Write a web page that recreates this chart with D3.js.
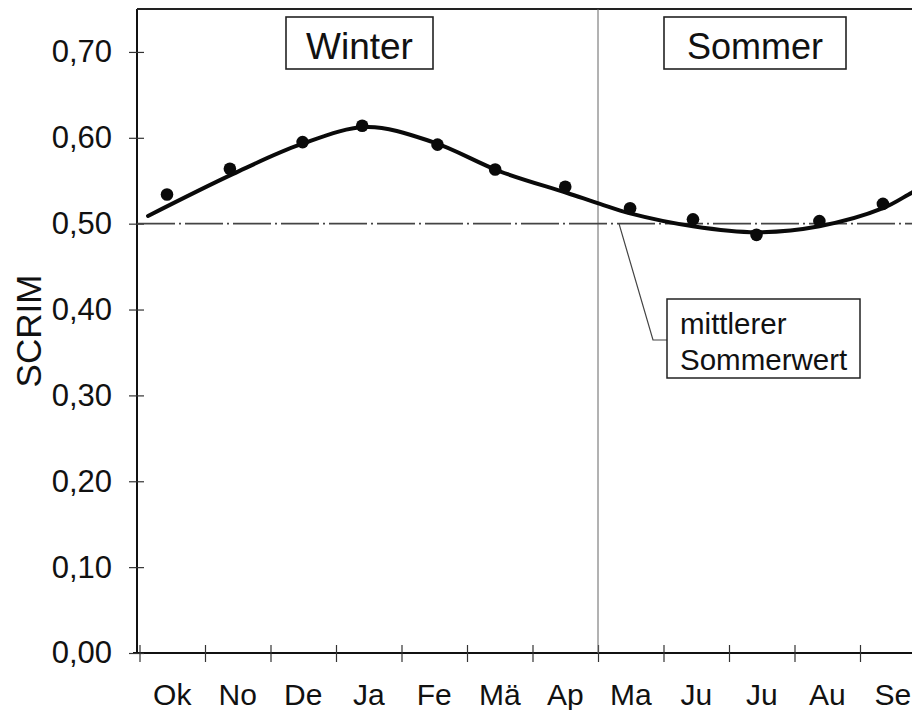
<!DOCTYPE html>
<html>
<head>
<meta charset="utf-8">
<script src="https://cdn.jsdelivr.net/npm/d3@7"></script>
<style>
    body { margin: 0; background: #fff; }
    #vis { width: 912px; height: 710px; overflow: hidden; }
    text { font-family: "Liberation Sans", Arial, sans-serif; fill: #111; }
</style>
</head>
<body>
<div id="vis"></div>
<script>
// months (winter season first), measured dots and fitted curve
var months = ['Ok', 'No', 'De', 'Ja', 'Fe', 'Mä', 'Ap', 'Ma', 'Ju', 'Ju', 'Au', 'Se'];
var pointPos = [0.42, 1.38, 2.49, 3.40, 4.55, 5.43, 6.50, 7.49, 8.45, 9.42, 10.38, 11.35];
var pointValues = [0.534, 0.564, 0.595, 0.614, 0.592, 0.563, 0.543, 0.518, 0.505, 0.487, 0.503, 0.523];
var curvePos = [0.13, 1.43, 2.45, 3.47, 4.48, 5.50, 6.52, 7.03, 7.49, 8.45, 9.42, 10.38, 11.35, 11.79, 12];
var curveValues = [0.509, 0.558, 0.592, 0.6125, 0.595, 0.561, 0.536, 0.523, 0.512, 0.497, 0.490, 0.497, 0.518, 0.536, 0.544];
var yTicks = [0, 0.1, 0.2, 0.3, 0.4, 0.5, 0.6, 0.7];
var summerMean = 0.5;
var summerStart = 7;

var width = 912;
var height = 710;
var margin = {
    top: 9,
    bottom: 57,
    left: 139.5
};

var svg = d3.select('#vis')
    .append('svg')
    .attr('width', width)
    .attr('height', height);

var x_scale = d3.scaleLinear()
    .domain([0, 12])
    .range([margin.left, margin.left + 786]);

var y_scale = d3.scaleLinear()
    .domain([0, 0.75])
    .range([height - margin.bottom, margin.top]);

var fmt = d3.formatLocale({ decimal: ',', thousands: '.', grouping: [3], currency: ['', ''] }).format('.2f');

var axisX = x_scale.range()[0] - 2.5;
var axisY = y_scale(0);

// frame: left axis, top line, bottom axis
svg.append('line')
    .attr('x1', axisX).attr('x2', axisX)
    .attr('y1', y_scale(0.75)).attr('y2', axisY + 1)
    .attr('stroke', '#111').attr('stroke-width', 2);

svg.append('line')
    .attr('x1', axisX).attr('x2', width)
    .attr('y1', y_scale(0.75)).attr('y2', y_scale(0.75))
    .attr('stroke', '#222').attr('stroke-width', 2.2);

svg.append('line')
    .attr('x1', axisX - 4).attr('x2', width)
    .attr('y1', axisY).attr('y2', axisY)
    .attr('stroke', '#111').attr('stroke-width', 2);

// y axis
var y_axis = d3.axisLeft(y_scale)
    .tickValues(yTicks)
    .tickFormat(fmt)
    .tickSizeInner(8)
    .tickSizeOuter(0)
    .tickPadding(17);

var gy = svg.append('g')
    .attr('transform', 'translate(' + axisX + ',0)')
    .call(y_axis);
gy.select('.domain').remove();
gy.selectAll('.tick line').attr('x1', 7).attr('stroke', '#333').attr('stroke-width', 1.2);
gy.selectAll('.tick text')
    .attr('font-size', 31)
    .attr('font-family', '"Liberation Sans", Arial, sans-serif')
    .attr('fill', '#111');

// x axis ticks at month borders
var x_axis = d3.axisBottom(x_scale)
    .tickValues(d3.range(0, 13))
    .tickFormat('')
    .tickSizeInner(9)
    .tickSizeOuter(0);

var gx = svg.append('g')
    .attr('transform', 'translate(0,' + axisY + ')')
    .call(x_axis);
gx.select('.domain').remove();
gx.selectAll('.tick line').attr('y1', -8).attr('stroke', '#333').attr('stroke-width', 1.2);

svg.selectAll('.month')
    .data(months)
    .enter()
    .append('text')
    .attr('class', 'month')
    .attr('x', function(d, i) { return x_scale(i + 0.5); })
    .attr('y', axisY + 52)
    .attr('text-anchor', 'middle')
    .attr('font-size', 30)
    .text(function(d) { return d; });

// y label
svg.append('text')
    .attr('transform', 'translate(41,' + y_scale(0.375) + ') rotate(-90)')
    .attr('text-anchor', 'middle')
    .attr('font-size', 35)
    .text('SCRIM');

// winter / summer divider
svg.append('line')
    .attr('x1', x_scale(summerStart)).attr('x2', x_scale(summerStart))
    .attr('y1', y_scale(0.75)).attr('y2', axisY)
    .attr('stroke', '#666').attr('stroke-width', 1);

// mean summer value, dash-dot
svg.append('line')
    .attr('x1', axisX).attr('x2', width)
    .attr('y1', y_scale(summerMean)).attr('y2', y_scale(summerMean))
    .attr('stroke', '#444').attr('stroke-width', 1.6)
    .attr('stroke-dasharray', '38,4,2,4');

// fitted curve
var curve = curvePos.map(function(d, i) { return [d, curveValues[i]]; });
var line = d3.line()
    .x(function(d) { return x_scale(d[0]); })
    .y(function(d) { return y_scale(d[1]); })
    .curve(d3.curveCatmullRom.alpha(0.5));

svg.append('path')
    .datum(curve)
    .attr('fill', 'none')
    .attr('stroke', '#0a0a0a')
    .attr('stroke-width', 4)
    .attr('stroke-linecap', 'round')
    .attr('d', line);

// measured points
svg.selectAll('.dot')
    .data(pointValues)
    .enter()
    .append('circle')
    .attr('class', 'dot')
    .attr('cx', function(d, i) { return x_scale(pointPos[i]); })
    .attr('cy', function(d) { return y_scale(d); })
    .attr('r', 6.3)
    .attr('fill', '#0a0a0a');

// season boxes
function labelBox(cx, w, txt, size) {
    svg.append('rect')
        .attr('x', cx - w / 2).attr('y', 17)
        .attr('width', w).attr('height', 52)
        .attr('fill', '#fff')
        .attr('stroke', '#222').attr('stroke-width', 1.6);
    svg.append('text')
        .attr('x', cx).attr('y', 59)
        .attr('text-anchor', 'middle')
        .attr('font-size', size)
        .text(txt);
}
labelBox(359.5, 147, 'Winter', 37);
labelBox(755, 182, 'Sommer', 36);

// callout
svg.append('path')
    .attr('d', 'M619,' + y_scale(summerMean) + 'L653,340L667,340')
    .attr('fill', 'none')
    .attr('stroke', '#444')
    .attr('stroke-width', 1.2);

svg.append('rect')
    .attr('x', 667).attr('y', 299)
    .attr('width', 193).attr('height', 79)
    .attr('fill', '#fff')
    .attr('stroke', '#222').attr('stroke-width', 1.5);

svg.append('text')
    .attr('x', 680).attr('y', 334)
    .attr('font-size', 29.5)
    .text('mittlerer');
svg.append('text')
    .attr('x', 680).attr('y', 370)
    .attr('font-size', 29.5)
    .text('Sommerwert');
</script>
</body>
</html>
